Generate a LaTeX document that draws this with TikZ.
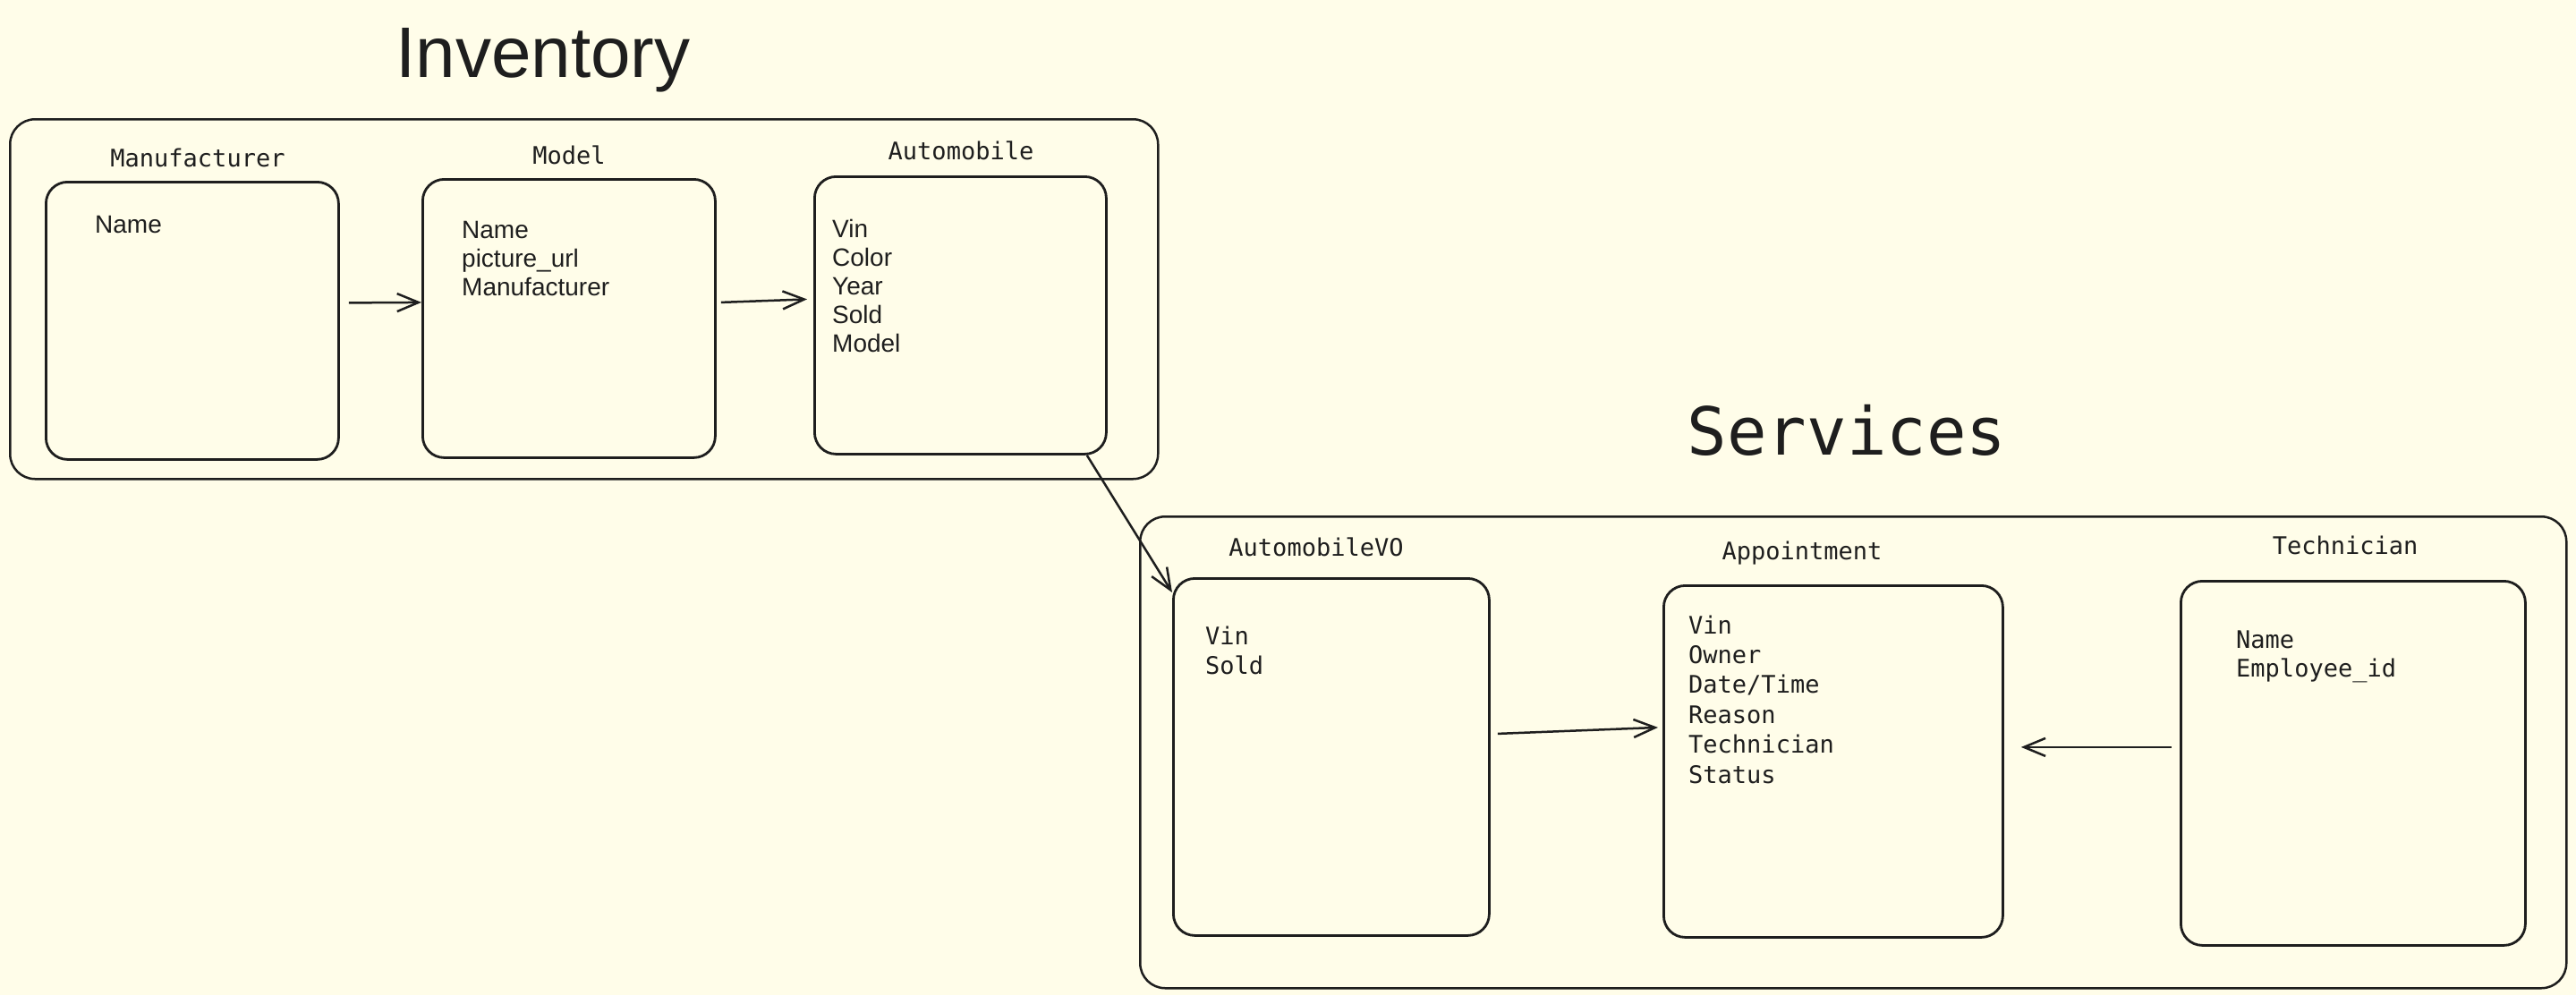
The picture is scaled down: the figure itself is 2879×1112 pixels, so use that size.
\documentclass[tikz,border=0pt]{standalone}
\usepackage{fontspec}
\setmainfont{Liberation Sans}
\newfontfamily\monof{DejaVu Sans Mono}
\usetikzlibrary{arrows.meta}
\definecolor{bg}{HTML}{FFFDE9}
\definecolor{ink}{HTML}{1E1E1E}
\begin{document}
\begin{tikzpicture}[x=1pt,y={(0pt,-1pt)},
  box/.style={draw=ink, line width=2.8pt, rounded corners=24pt, anchor=north west, inner sep=0pt},
  cont/.style={draw=ink, line width=2.5pt, rounded corners=28pt, anchor=north west, inner sep=0pt},
  lbl/.style={anchor=base, inner sep=0pt, text=ink, font=\monof\fontsize{27}{32}\selectfont},
  fld/.style={anchor=base west, inner sep=0pt, text=ink},
  arr/.style={draw=ink, line width=2.5pt, -{Straight Barb[length=24pt,width=20pt]}}]
\fill[bg] (0,0) rectangle (2879,1112);
\useasboundingbox (0,0) rectangle (2879,1112);
% titles
\node[anchor=base, inner sep=0pt, text=ink, font=\fontsize{80}{96}\selectfont] (invt) at (607,86) {Inventory};
\node[anchor=base, inner sep=0pt, text=ink, font=\monof\fontsize{74}{88}\selectfont] (servt) at (2064,508) {Services};
% containers
\node[cont, minimum width=1283pt, minimum height=402pt] (inv) at (10,132) {};
\node[cont, minimum width=1594pt, minimum height=527pt] (serv) at (1273,576) {};
% inventory boxes
\node[box, minimum width=327pt, minimum height=310pt] (manu) at (50,202) {};
\node[box, minimum width=327pt, minimum height=311pt] (model) at (471,199) {};
\node[box, minimum width=326pt, minimum height=310pt] (auto) at (909,196) {};
\node[lbl] (manul) at (221,186) {Manufacturer};
\node[lbl] (modell) at (636,183) {Model};
\node[lbl] (autol) at (1074,178) {Automobile};
\node[fld, font=\fontsize{28}{32}\selectfont] (manuf) at (106,260) {Name};
\node[fld, font=\fontsize{28}{32}\selectfont] (modelf) at (516,266) {\begin{tabular}[t]{@{}l@{}}Name\\picture\_url\\Manufacturer\end{tabular}};
\node[fld, font=\fontsize{28}{32.2}\selectfont] (autof) at (930,265) {\begin{tabular}[t]{@{}l@{}}Vin\\Color\\Year\\Sold\\Model\end{tabular}};
% services boxes
\node[box, minimum width=353pt, minimum height=399pt] (avo) at (1310,645) {};
\node[box, minimum width=379pt, minimum height=393pt] (appt) at (1858,653) {};
\node[box, minimum width=385pt, minimum height=407pt] (tech) at (2436,648) {};
\node[lbl] (avol) at (1471,621) {AutomobileVO};
\node[lbl] (apptl) at (2014,625) {Appointment};
\node[lbl] (techl) at (2621,619) {Technician};
\node[fld, font=\monof\fontsize{27}{33}\selectfont] (avof) at (1347,720) {\begin{tabular}[t]{@{}l@{}}Vin\\Sold\end{tabular}};
\node[fld, font=\monof\fontsize{27}{33.4}\selectfont] (apptf) at (1887,708) {\begin{tabular}[t]{@{}l@{}}Vin\\Owner\\Date/Time\\Reason\\Technician\\Status\end{tabular}};
\node[fld, font=\monof\fontsize{27}{32}\selectfont] (techf) at (2499,724) {\begin{tabular}[t]{@{}l@{}}Name\\Employee\_id\end{tabular}};
% connectors
\draw[arr] ([shift={(10pt,20pt)}]manu.east) -- ([yshift=18pt]model.west);
\draw[arr] ([shift={(5pt,18pt)}]model.east) -- ([shift={(-7pt,18pt)}]auto.west);
\draw[arr] ([xshift=-23pt]auto.south east) -- ([yshift=-17pt]avo.north west);
\draw[arr] ([shift={(8pt,26pt)}]avo.east) -- ([shift={(-5pt,38pt)}]appt.west);
\draw[arr] ([shift={(-9pt,18pt)}]tech.west) -- ([shift={(19pt,16pt)}]appt.east);
\end{tikzpicture}
\end{document}
